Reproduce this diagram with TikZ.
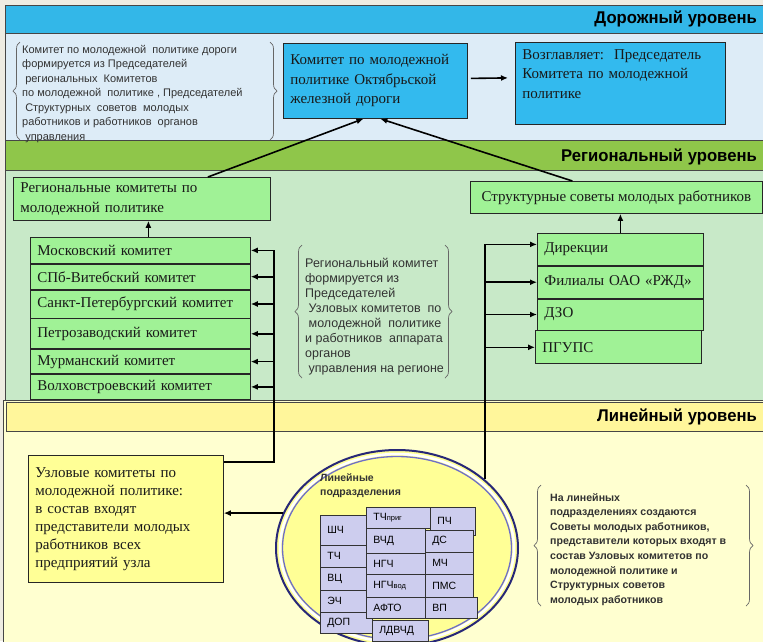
\documentclass[tikz,border=0pt]{standalone}
\usepackage{fontspec}
\setmainfont{Liberation Serif}
\setsansfont{Liberation Sans}
\newfontfamily\narrowsans[FakeStretch=0.98]{Liberation Sans}
\usetikzlibrary{shapes.geometric,arrows.meta,positioning,decorations.pathreplacing}

\definecolor{bgbeige}{RGB}{238,236,226}
\definecolor{hdblue}{RGB}{51,183,232}
\definecolor{ltblue}{RGB}{221,236,247}
\definecolor{hdgreen}{RGB}{143,198,74}
\definecolor{ltgreen}{RGB}{200,233,200}
\definecolor{hdyellow}{RGB}{255,246,155}
\definecolor{ltyellow}{RGB}{255,255,208}
\definecolor{boxblue}{RGB}{51,186,238}
\definecolor{boxgreen}{RGB}{160,242,150}
\definecolor{boxyellow}{RGB}{255,255,150}
\definecolor{unitfill}{RGB}{205,205,238}
\definecolor{ringnavy}{RGB}{40,40,120}
\definecolor{ringblue}{RGB}{110,110,200}
\definecolor{bandline}{RGB}{70,70,70}
\definecolor{notegray}{RGB}{50,50,50}

\begin{document}
\begin{tikzpicture}[x=1pt, y=-1pt,
    box/.style={rectangle, draw=black!85, line width=0.8pt, anchor=north west, align=left, inner xsep=7pt, inner ysep=3pt, text=black!90, font=\fontsize{15}{20}\selectfont},
    bluebox/.style={box, fill=boxblue},
    greenbox/.style={box, fill=boxgreen},
    row/.style={greenbox, text width=206pt},
    rrow/.style={greenbox, text width=152pt},
    unit/.style 2 args={rectangle, draw=black!80, line width=0.7pt, fill=unitfill, anchor=north west, align=left, inner xsep=7pt, inner ysep=2pt, text width=#1, minimum height=#2, font=\sffamily\fontsize{10.5}{12}\selectfont},
    note/.style={anchor=north west, align=left, inner sep=0pt, text=notegray},
    level/.style={anchor=east, inner sep=0pt, font=\narrowsans\bfseries\fontsize{17}{20}\selectfont},
    arr/.style={-{Latex[length=7pt,width=6pt]}, line width=1.6pt},
    brc/.style={decorate, decoration={brace, amplitude=7pt}, draw=black!60, line width=0.7pt}]

    \useasboundingbox (0,0) rectangle (763,641);
    % level bands
    \fill[bgbeige] (0,0) rectangle (763,641);
    \filldraw[fill=hdblue, draw=bandline] (5,5) rectangle (763,33);
    \filldraw[fill=ltblue, draw=bandline] (5,33) rectangle (763,140);
    \filldraw[fill=hdgreen, draw=bandline] (5,140) rectangle (763,170);
    \filldraw[fill=ltgreen, draw=bandline] (5,170) rectangle (763,402);
    \filldraw[fill=ltyellow, draw=bandline] (3,400) rectangle (763,645);
    \filldraw[fill=hdyellow, draw=bandline] (6,402) rectangle (763,431);

    \node[level] (lvl1) at (757,19) {Дорожный уровень};
    \node[level] (lvl2) at (757,157) {Региональный уровень};
    \node[level] (lvl3) at (757,417) {Линейный уровень};

    % road level
    \node[note, font=\sffamily\fontsize{11}{14.5}\selectfont] (kinfo) at (22,45) {Комитет по молодежной\ \ политике дороги\\формируется из Председателей\\\ региональных\ \ Комитетов\\по молодежной\ \ политике , Председателей\\\ Структурных\ \ советов\ \ молодых\\работников и работников\ \ органов\\\ управления};
    \draw[brc] (20,140) -- (20,42);
    \draw[brc] (270,42) -- (270,140);

    \node[bluebox, text width=170pt, minimum height=75pt, font=\fontsize{15}{19.5}\selectfont] (kom) at (283,43) {Комитет по молодежной\\политике Октябрьской\\железной дороги};
    \node[bluebox, text width=196pt, minimum height=82pt, font=\fontsize{15}{19.5}\selectfont] (voz) at (515,42) {Возглавляет:\ \ Председатель\\Комитета по молодежной\\политике\\\mbox{}};

    % regional level
    \node[greenbox, text width=243pt, minimum height=43pt] (reg) at (13,177) {Региональные комитеты по\\молодежной политике};
    \node[row, minimum height=26pt] (mos) at (30,237) {Московский комитет};
    \node[row, minimum height=25pt, below=0pt of mos] (spb) {СПб-Витебский комитет};
    \node[row, minimum height=28pt, below=0pt of spb] (spt) {Санкт-Петербургский комитет};
    \node[row, minimum height=30pt, below=0pt of spt] (ptz) {Петрозаводский комитет};
    \node[row, minimum height=24pt, below=0pt of ptz] (mur) {Мурманский комитет};
    \node[row, minimum height=25pt, below=0pt of mur] (vol) {Волховстроевский комитет};

    \node[note, font=\sffamily\fontsize{12.5}{15}\selectfont] (rinfo) at (305,258) {Региональный комитет\\формируется из\\Председателей\\\ Узловых комитетов\ \ по\\\ молодежной\ \ политике\\и работников\ \ аппарата\\органов\\\ управления на регионе};
    \draw[brc] (302,378) -- (302,245);
    \draw[brc] (445,245) -- (445,378);

    \node[greenbox, minimum width=292pt, minimum height=32pt] (str) at (470,181) {Структурные советы молодых работников};
    \node[rrow, minimum height=32pt] (dir) at (537,233) {Дирекции};
    \node[rrow, minimum height=32pt, below=0pt of dir] (fil) {Филиалы ОАО «РЖД»};
    \node[rrow, minimum height=31pt, below=0pt of fil] (dzo) {ДЗО};
    \node[rrow, minimum height=33pt, below=0pt of dzo, xshift=-2pt] (pgu) {ПГУПС};

    % linear level
    \node[box, fill=boxyellow, text width=181pt, minimum height=127pt, font=\fontsize{15}{18}\selectfont] (uzl) at (28,455) {Узловые комитеты по\\молодежной политике:\\в состав входят\\представители молодых\\работников всех\\предприятий узла};

    \node[ellipse, minimum width=242pt, minimum height=196pt, fill=boxyellow, draw=ringnavy, line width=2pt] (lin) at (397,548) {};
    \draw[white, line width=2.5pt] (lin.center) ellipse [x radius=117pt, y radius=94pt];
    \draw[ringblue, line width=1.3pt] (lin.center) ellipse [x radius=114.5pt, y radius=91.5pt];
    \node[note, text=black!80, font=\sffamily\bfseries\fontsize{10.5}{14}\selectfont] (lintitle) at (320,473) {Линейные\\подразделения};

    \node[unit={32pt}{30pt}] (shch) at (320,515) {ШЧ};
    \node[unit={32pt}{22pt}] (tch) at (320,545) {ТЧ};
    \node[unit={32pt}{23pt}] (vc) at (320,567) {ВЦ};
    \node[unit={32pt}{22pt}] (ech) at (320,590) {ЭЧ};
    \node[unit={38pt}{21pt}] (dop) at (320,612) {ДОП};
    \node[unit={50pt}{21pt}] (tchp) at (366,507) {ТЧ{\fontsize{7.5}{9}\selectfont приг}};
    \node[unit={45pt}{25pt}] (vchd) at (366,528) {ВЧД};
    \node[unit={45pt}{21pt}] (ngch) at (366,553) {НГЧ};
    \node[unit={45pt}{23pt}] (ngchv) at (366,574) {НГЧ{\fontsize{7.5}{9}\selectfont вод}};
    \node[unit={45pt}{21pt}] (afto) at (366,597) {АФТО};
    \node[unit={42pt}{21pt}] (ldvchd) at (372,620) {ЛДВЧД};
    \node[unit={31pt}{28pt}] (pch) at (430,507) {ПЧ};
    \node[unit={34pt}{22pt}] (ds) at (425,530) {ДС};
    \node[unit={34pt}{22pt}] (mch) at (425,552) {МЧ};
    \node[unit={34pt}{23pt}] (pms) at (425,574) {ПМС};
    \node[unit={38pt}{21pt}] (vp) at (425,597) {ВП};

    \node[note, font=\sffamily\bfseries\fontsize{10.6}{14.6}\selectfont] (linfo) at (550,493) {На линейных\\подразделениях создаются\\Советы молодых работников,\\представители которых входят в\\состав Узловых комитетов по\\молодежной политике и\\Структурных советов\\молодых работников};
    \draw[brc] (541,606) -- (541,485);
    \draw[brc] (746,485) -- (746,606);

    % connectors
    \draw[arr] ([xshift=3pt,yshift=2.5pt]kom.east) -- ([xshift=-7pt,yshift=3pt]kom.east -| voz.west);
    \draw[arr] ([xshift=66pt]reg.north) -- ([xshift=-12pt]kom.south);
    \draw[arr] ([xshift=-44pt]str.north) -- ([xshift=5pt]kom.south);
    \draw[arr] ([xshift=8pt]mos.north) -- ([xshift=8pt]mos.north |- reg.south);
    \draw[arr] (dir.north) -- (dir.north |- str.south);

    \coordinate (lbus) at ([xshift=50pt,yshift=-7pt]uzl.north east);
    \draw[arr] ([yshift=-7pt]uzl.north east) -| (lbus |- mos.east) -- (mos.east);
    \draw[arr] (lbus |- spb.east) -- (spb.east);
    \draw[arr] (lbus |- spt.east) -- (spt.east);
    \draw[arr] (lbus |- ptz.east) -- (ptz.east);
    \draw[arr] (lbus |- mur.east) -- (mur.east);
    \draw[arr] (lbus |- vol.east) -- (vol.east);

    \coordinate (rbus) at (lin.38);
    \draw[arr] (rbus) |- ([yshift=5pt]dir.west);
    \draw[arr] (rbus |- fil.west) -- (fil.west);
    \draw[arr] (rbus |- dzo.west) -- (dzo.west);
    \draw[arr] (rbus |- pgu.west) -- (pgu.west);

    \draw[arr] (lin.163) -- (lin.163 -| uzl.east);
\end{tikzpicture}
\end{document}
